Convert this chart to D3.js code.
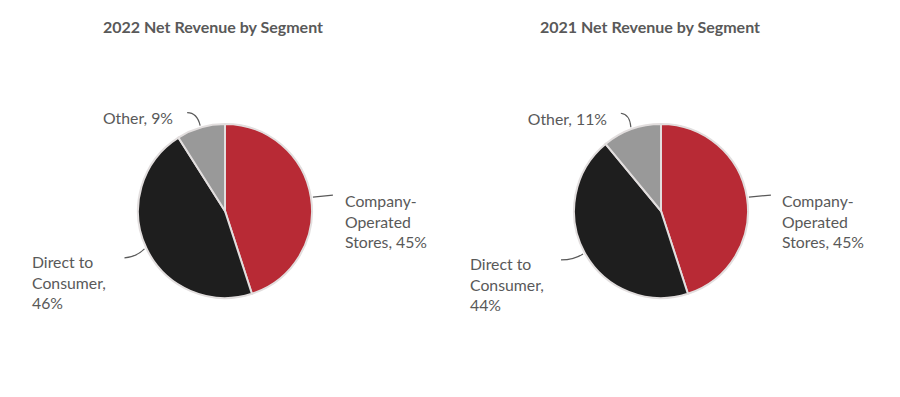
<!DOCTYPE html>
<html>
<head>
<meta charset="utf-8">
<script src="https://cdn.jsdelivr.net/npm/d3@7"></script>
<style>
	body { margin: 0; background: #fff; }
	text { font-family: Lato, 'Open Sans', sans-serif; fill: #595959; }
	.title { font-weight: bold; font-size: 16px; }
	.label { font-size: 15.8px; }
</style>
</head>
<body>
<script>
// segment data
const segments = ['Company-Operated Stores', 'Direct to Consumer', 'Other'];
const labelLines = [['Company-', 'Operated', 'Stores, '], ['Direct to', 'Consumer,', ''], ['Other, ']];
const values2022 = [45, 46, 9];
const values2021 = [45, 44, 11];
const titles = ['2022 Net Revenue by Segment', '2021 Net Revenue by Segment'];

const width = 900;
const height = 397;
const radius = 87;

const color = d3.scaleOrdinal()
	.domain(segments)
	.range(['#b82a35', '#1e1e1e', '#999999']);

const svg = d3
	.select('body')
	.append('svg')
	.attr('width', width)
	.attr('height', height);

// per-chart layout: pie centre, title centre, label and leader offsets
const charts = [
	{
		values: values2022, title: titles[0], cx: 225, cy: 211, tx: 213,
		labels: [
			{ x: 120, y: -4, anchor: 'start', end: [20, -2], ctrl: [10, -1] },
			{ x: -193, y: 57, anchor: 'start', end: [-20, 9], ctrl: [-8, 8] },
			{ x: -52, y: -87, anchor: 'end', end: [-13, -13], ctrl: [-3, -13] },
		],
	},
	{
		values: values2021, title: titles[1], cx: 661, cy: 211, tx: 650,
		labels: [
			{ x: 121, y: -4, anchor: 'start', end: [22, -2], ctrl: [11, -1] },
			{ x: -191, y: 59, anchor: 'start', end: [-22, 6], ctrl: [-9, 6] },
			{ x: -54, y: -86, anchor: 'end', end: [-10, -14], ctrl: [-1, -13] },
		],
	},
];

const pie = d3.pie().sort(null).value(d => d);
const arc = d3.arc().innerRadius(0).outerRadius(radius);

charts.forEach(chart => {
	svg
		.append('text')
		.attr('class', 'title')
		.attr('x', chart.tx)
		.attr('y', 33)
		.attr('text-anchor', 'middle')
		.text(chart.title);

	const g = svg
		.append('g')
		.attr('transform', `translate(${chart.cx},${chart.cy})`);

	const arcs = pie(chart.values);

	g.selectAll('path.slice')
		.data(arcs)
		.enter()
		.append('path')
		.attr('class', 'slice')
		.attr('d', arc)
		.style('fill', (d, i) => color(segments[i]))
		.style('stroke', '#e2dede')
		.style('stroke-width', 2);

	// leader lines start on the outer edge at each slice's mid angle
	g.selectAll('path.leader')
		.data(arcs)
		.enter()
		.append('path')
		.attr('class', 'leader')
		.attr('d', (d, i) => {
			const a = (d.startAngle + d.endAngle) / 2;
			const r = radius + 2;
			const x0 = Math.sin(a) * r;
			const y0 = -Math.cos(a) * r;
			const l = chart.labels[i];
			return `M${x0},${y0}Q${x0 + l.ctrl[0]},${y0 + l.ctrl[1]} ${x0 + l.end[0]},${y0 + l.end[1]}`;
		})
		.style('fill', 'none')
		.style('stroke', '#595959')
		.style('stroke-width', 1.2);

	const label = g.selectAll('text.label')
		.data(arcs)
		.enter()
		.append('text')
		.attr('class', 'label')
		.attr('text-anchor', (d, i) => chart.labels[i].anchor)
		.attr('x', (d, i) => chart.labels[i].x)
		.attr('y', (d, i) => chart.labels[i].y);

	label.each(function(d, i) {
		const lines = labelLines[i].slice();
		lines[lines.length - 1] += `${d.data}%`;
		d3.select(this)
			.selectAll('tspan')
			.data(lines)
			.enter()
			.append('tspan')
			.attr('x', chart.labels[i].x)
			.attr('dy', (t, j) => (j === 0 ? 0 : 20.5))
			.text(t => t);
	});
});
</script>
</body>
</html>
